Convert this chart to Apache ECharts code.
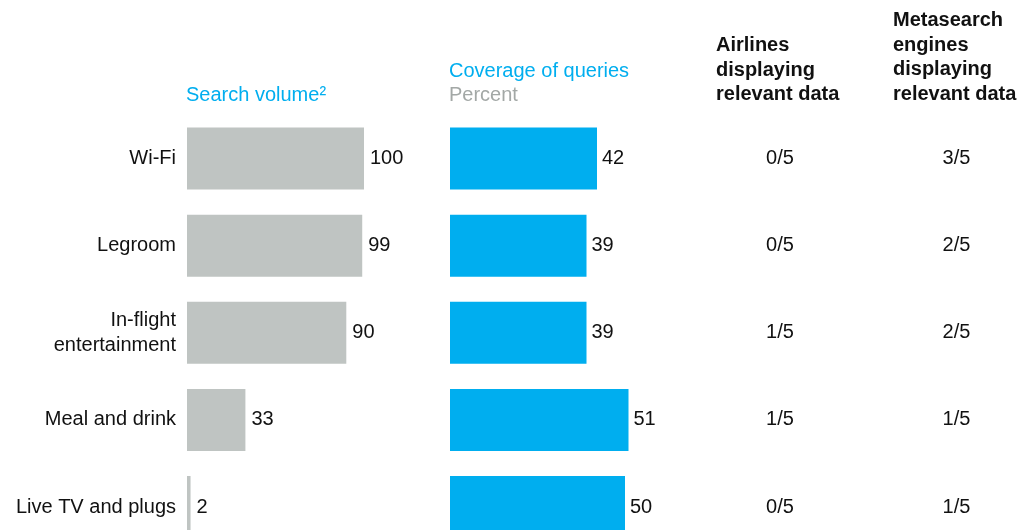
<!DOCTYPE html>
<html><head><meta charset="utf-8">
<script src="https://cdn.jsdelivr.net/npm/echarts@6/dist/echarts.min.js"></script>
<style>html,body{margin:0;padding:0;background:#fff}#c{width:1036px;height:530px}</style>
</head><body><div id="c"></div>
<script>
const categories = ['Wi-Fi', 'Legroom', 'In-flight\nentertainment', 'Meal and drink', 'Live TV and plugs'];
const searchVolume = [100, 99, 90, 33, 2];
const coverage = [42, 39, 39, 51, 50];
const airlines = ['0/5', '0/5', '1/5', '1/5', '0/5'];
const metasearch = ['3/5', '2/5', '2/5', '1/5', '1/5'];

const FONT = '"Liberation Sans", Arial, sans-serif';
const BLUE = '#00AEEF';
const GRAY = '#BFC4C2';
const TEXT = '#111';

const gridTop = 158.5, gridH = 348.5;
const chart = echarts.init(document.getElementById('c'));
const mid = categories.map(() => 0.5);

function catAxis(gi, show) {
  return {
    type: 'category', gridIndex: gi, data: categories, inverse: true, boundaryGap: false,
    axisLine: {show: false}, axisTick: {show: false}, splitLine: {show: false},
    axisLabel: show ? {show: true, fontSize: 20, fontFamily: FONT, color: TEXT, margin: 11, lineHeight: 25, align: 'right'} : {show: false}
  };
}
function valAxis(gi, max) {
  return {type: 'value', gridIndex: gi, min: 0, max: max, show: false, splitLine: {show: false}};
}

chart.setOption({
  animation: false,
  grid: [
    {left: 187, width: 177, top: gridTop, height: gridH},
    {left: 450, width: 350, top: gridTop, height: gridH},
    {left: 700, width: 160, top: gridTop, height: gridH},
    {left: 877, width: 160, top: gridTop, height: gridH}
  ],
  xAxis: [valAxis(0, 100), valAxis(1, 100), valAxis(2, 1), valAxis(3, 1)],
  yAxis: [catAxis(0, true), catAxis(1, false), catAxis(2, false), catAxis(3, false)],
  series: [
    {type: 'bar', xAxisIndex: 0, yAxisIndex: 0, data: searchVolume, barWidth: 62,
     itemStyle: {color: GRAY},
     label: {show: true, position: 'right', distance: 6, fontSize: 20, fontFamily: FONT, color: TEXT}},
    {type: 'bar', xAxisIndex: 1, yAxisIndex: 1, data: coverage, barWidth: 62,
     itemStyle: {color: BLUE},
     label: {show: true, position: 'right', distance: 5, fontSize: 20, fontFamily: FONT, color: TEXT}},
    {type: 'scatter', xAxisIndex: 2, yAxisIndex: 2, data: mid, symbolSize: 0,
     itemStyle: {opacity: 1},
     label: {show: true, position: 'inside', fontSize: 20, fontFamily: FONT, color: TEXT,
       formatter: p => airlines[p.dataIndex]}},
    {type: 'scatter', xAxisIndex: 3, yAxisIndex: 3, data: mid, symbolSize: 0,
     itemStyle: {opacity: 1},
     label: {show: true, position: 'inside', fontSize: 20, fontFamily: FONT, color: TEXT,
       formatter: p => metasearch[p.dataIndex]}}
  ],
  graphic: [
    {type: 'text', style: {text: 'Search volume²', x: 186, y: 95, align: 'left', verticalAlign: 'middle', font: '20px ' + FONT, fill: BLUE}},
    {type: 'text', style: {text: 'Coverage of queries', x: 449, y: 71, align: 'left', verticalAlign: 'middle', font: '20px ' + FONT, fill: BLUE}},
    {type: 'text', style: {text: 'Percent', x: 449, y: 95, align: 'left', verticalAlign: 'middle', font: '20px ' + FONT, fill: '#A3A8A6'}},
    {type: 'text', style: {text: 'Airlines\ndisplaying\nrelevant data', x: 716, y: 33.5, align: 'left', verticalAlign: 'top', lineHeight: 24.5, font: 'bold 20px ' + FONT, fill: TEXT}},
    {type: 'text', style: {text: 'Metasearch\nengines\ndisplaying\nrelevant data', x: 893, y: 8.5, align: 'left', verticalAlign: 'top', lineHeight: 24.5, font: 'bold 20px ' + FONT, fill: TEXT}}
  ]
});
</script></body></html>
